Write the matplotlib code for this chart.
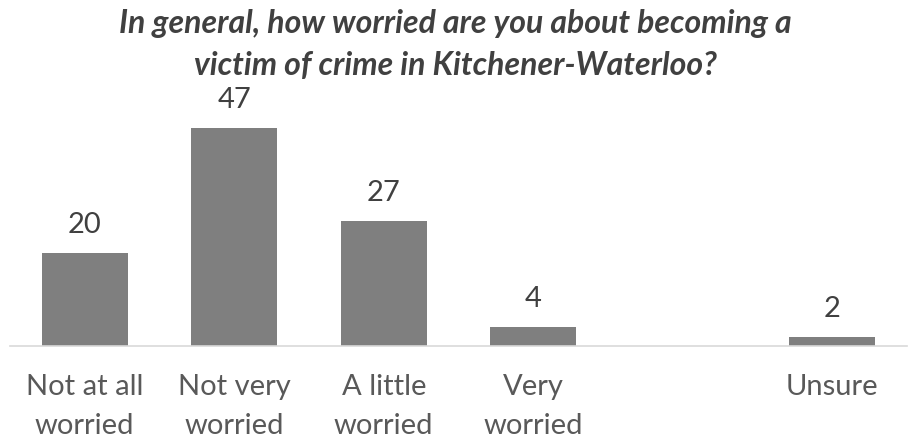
import numpy as np
import matplotlib.pyplot as plt

# survey responses, percent; the blank slot keeps a gap before "Unsure"
categories = ["Not at all\nworried", "Not very\nworried", "A little\nworried",
              "Very\nworried", "", "Unsure"]
values = [20, 47, 27, 4, np.nan, 2]
title = "In general, how worried are you about becoming a\nvictim of crime in Kitchener-Waterloo?"

plt.rcParams['font.family'] = ['Lato', 'DejaVu Sans']

fig = plt.figure(figsize=(9.11, 4.46), dpi=100)
ax = fig.add_axes([10 / 911, 100 / 446, 897 / 911, 232 / 446])

x = np.arange(len(categories))
ax.bar(x, values, width=0.573, color="#7f7f7f", zorder=2)

for xi, v in zip(x, values):
    if np.isnan(v):
        continue
    ax.annotate(f"{v:g}", xy=(xi, v), xytext=(0, 14.5),
                textcoords="offset points", ha="center", va="baseline",
                fontsize=21, color="#404040")

ax.set_xlim(-0.5, 5.5)
ax.set_ylim(0, 50)
ax.set_xticks(x)
ax.set_xticklabels(categories, fontsize=21, color="#595959", linespacing=1.64)
ax.tick_params(axis="x", length=0, pad=20)
ax.set_yticks([])

for side in ["top", "left", "right"]:
    ax.spines[side].set_visible(False)
ax.spines["bottom"].set_color("#d9d9d9")
ax.spines["bottom"].set_linewidth(1.2)

fig.text(0.5, 0.98, title, ha="center", va="top", fontsize=23,
         fontweight="bold", fontstyle="italic", color="#404040",
         linespacing=1.55)

fig.savefig("out.png", dpi=100)
